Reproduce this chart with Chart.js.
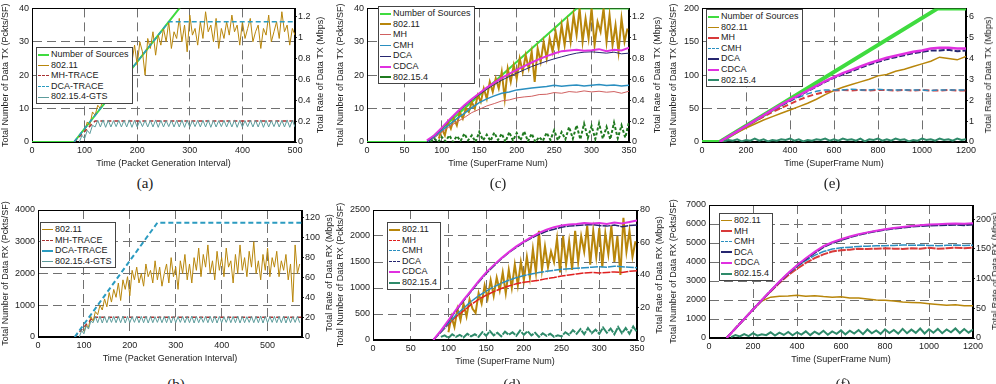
<!DOCTYPE html>
<html>
<head>
<meta charset="utf-8">
<script src="https://cdn.jsdelivr.net/npm/chart.js@4.4.1/dist/chart.umd.min.js"></script>
<style>
  html, body { margin: 0; padding: 0; background: #fff; }
  body { width: 996px; height: 384px; position: relative; overflow: hidden; font-family: "Liberation Sans", Arial, sans-serif; }
  canvas { position: absolute; }
  .cap { position: absolute; font-family: "Liberation Serif", serif; font-size: 15px; color: #222; transform: translate(-50%, -50%); }
  .rt { position: absolute; font-size: 9px; color: #222; white-space: nowrap; transform: translate(-50%, -50%) rotate(-90deg); }
  .lg { position: absolute; background: #fff; border: 1px solid #444; padding: 1px 3px 1px 1px; font-size: 9px; color: #222; }
  .lg div { height: 10.6px; line-height: 10.6px; white-space: nowrap; }
  .lg span { display: inline-block; width: 11px; margin-right: 2px; vertical-align: middle; }
</style>
</head>
<body>
<script>
// ---- (a) TX vs packet generation interval ----
const aSrcX = [0, 80, 280, 500], aSrcY = [0, 0, 40, 84];
const aMhX = [80, 120, 500], aMhY = [0, 6.3, 6.3];
const aDcaX = [80, 260, 500], aDcaY = [0, 36, 36];
// 802.11 sampled from x=100, every 5
const a80211 = [3,6,5,9,8,11,10,13,12,16, 14,19,17,21,20,25,22,27,24,29,
  23,30,27,20,31,28,33,26,32,29, 34,30,36,28,33,31,37,30,35,27,
  38,32,34,29,36,31,39,33,35,30, 37,28,34,31,36,32,38,33,35,29,
  36,31,34,37,30,33,35,28,34,32, 38,30,33,36,31,39,33,35,29,34, 32];
// GTS sampled from x=90, every 5
const aGts = [0,2,1,3.5,2.5,5,4.5,
  6.5,4.5,6.6,4.4,6.5,4.5,6.4,4.6,6.5,4.5, 6.5,4.5,6.6,4.4,6.5,4.5,6.4,4.6,6.5,4.5,
  6.5,4.5,6.6,4.4,6.5,4.5,6.4,4.6,6.5,4.5, 6.5,4.5,6.6,4.4,6.5,4.5,6.4,4.6,6.5,4.5,
  6.5,4.5,6.6,4.4,6.5,4.5,6.4,4.6,6.5,4.5, 6.5,4.5,6.6,4.4,6.5,4.5,6.4,4.6,6.5,4.5,
  6.5,4.5,6.6,4.4,6.5,4.5,6.4,4.6,6.5,4.5, 6.5,4.5,6.6,4.4,6.5,4.5];

// ---- (b) RX vs packet generation interval ----
const bMhX = [80, 120, 575], bMhY = [0, 620, 620];
const bDcaX = [80, 260, 575], bDcaY = [0, 3600, 3600];
// 802.11 from x=100, every 5
const b80211 = [150,400,300,650,500,800,700,1000,850,1200, 950,1400,1100,1500,1250,1700,1150,1800,1500,1900,
  1300,2100,1800,2200,1700,2000,1600,2300,1900,2100, 1700,2400,1800,2200,1600,2000,2300,1700,2500,1900,
  2200,1500,2400,2000,2600,1800,2300,1700,2500,2100, 2800,1900,2600,2200,2900,2000,2400,1800,2700,2100,
  2500,1900,2800,2200,2400,1700,2600,2000,2900,2100, 2500,1900,2700,2200,3000,2000,2400,1800,2600,2100,
  2800,1900,2500,2200,2700,1900,2400,2100,2600,1800, 2300,1100,2900,2000,2300];
// GTS from x=90, every 5
const bGts = [0,200,100,350,250,500,450,
  650,450,660,440,650,450,640,460,650,450, 650,450,660,440,650,450,640,460,650,450,
  650,450,660,440,650,450,640,460,650,450, 650,450,660,440,650,450,640,460,650,450,
  650,450,660,440,650,450,640,460,650,450, 650,450,660,440,650,450,640,460,650,450,
  650,450,660,440,650,450,640,460,650,450, 650,450,660,440,650,450,640,460,650,450,
  650,450,660,440,650,450,640,460,650,450];

// ---- (c) TX vs superframe, 350 ----
const cSrcX = [0, 80, 280, 350], cSrcY = [0, 0, 40, 40];
// 802.11 from x=96, every 4
const c80211 = [1,4,2,6,4,7,5,9,7,10, 9,12,10,14,12,16,13,18,15,19,
  16,21,13,22,18,23,19,25,21,26, 22,27,18,28,24,30,25,31,27,33,
  28,35,29,36,30,38,32,40,30,37, 31,40,29,36,33,40,30,38,29,35, 27,37,30,34];
// curves from x=80, every 10
const cMh = [0,1.2,3,4.6,6,7.3,8.8,9.8,10.8,11.5,12.3,12.6,13.2,13.5,13.7,14.2,14.3,14.8,14.6,15.1,14.9,15.3,15,15.2,14.9,15.1,14.6,15.2];
const cCmh = [0,1.5,3.5,5.2,7,8.6,10.3,11.8,12.9,13.8,14.6,15,15.6,15.9,16.2,16.4,16.6,17,16.7,16.9,17.1,16.8,17,17.2,16.9,17.1,16.8,17];
const cDca = [0,1.8,4,6.4,8.6,10.6,12.5,14.2,15.8,17.2,18.5,19.6,20.6,21.6,22.6,23.4,24.2,24.9,25.5,26.1,26.6,26.9,27,26.8,26.6,26.9,26.4,26.6];
const cCdca = [0.5,2,4.3,6.7,8.9,11,12.9,14.6,16.3,17.8,19.2,20.4,21.6,22.7,23.8,24.8,25.7,26.5,27.2,27.4,27.6,27.3,27.5,27.8,27.2,27.6,27.4,28.2];
// 802.15.4 from x=85, every 5
const c154 = [0,1,0,1.5,0.2,2,0,1.8,0.3,2.5, 0.5,2,0,3,0.5,2.2,0.3,2.8,0.6,2.5,
  0,3,0.4,2.7,0.5,3.2,0.2,2.5,0,1.5, 0.3,2.8,0.6,3.5,0.5,3,0.8,4.5,1,5,
  0.8,5.5,1.2,4.8,0.9,5.6,1,4.5,0.8,5.8, 1.1,5,1.3,6];

// ---- (d) RX vs superframe, 350 ----
// 802.11 from x=100, every 4
const d80211 = [150,450,250,600,380,700,450,780,600,520, 900,700,1050,800,1150,850,1200,950,1300,900,
  1350,1000,1450,1050,1500,1150,1600,1200,1750,1300, 2100,1350,1800,1400,1700,1500,1950,1300,2000,1450,
  1900,1350,2100,1500,2000,1700,2200,1450,2100,1600, 2150,1400,2050,1650,2200,1500,2000,1250,2350,1700, 2100,1600,1900];
// curves from x=80, every 10
const dMh = [0,150,300,450,560,680,780,860,930,990,1040,1080,1110,1130,1150,1180,1200,1230,1250,1270,1290,1300,1290,1300,1310,1300,1320,1330];
const dCmh = [0,150,320,480,610,740,850,940,1020,1090,1150,1200,1240,1270,1300,1320,1340,1360,1370,1380,1390,1400,1410,1400,1420,1410,1400,1390];
const dDca = [0,170,360,560,750,930,1110,1280,1420,1560,1680,1780,1880,1960,2030,2090,2130,2170,2190,2200,2210,2220,2200,2190,2210,2180,2200,2210];
const dCdca = [0,180,380,580,770,950,1130,1300,1440,1570,1690,1800,1890,1980,2060,2120,2170,2200,2220,2230,2250,2240,2250,2230,2260,2240,2270,2300];
// 802.15.4 from x=90, every 5
const d154 = [60,90,40,110,60,100,50,120,70,110, 60,150,80,170,90,140,70,160,100,150,
  80,180,100,170,90,140,60,130,80,120, 60,90,70,150,100,190,120,210,110,230,
  130,200,120,240,140,220,110,250,130,230, 120,260,150];

// ---- (e) TX vs superframe, 1200 ----
const eSrcX = [0, 80, 1072, 1200], eSrcY = [0, 0, 200, 200];
// curves from x=80, every 40
const e80211 = [0,7,14,21,27,33,38,43,48,53,58,64,71,77,82,86,90,94,99,101,106,109,113,117,121,127,125,123,128];
const eMh = [0,8,16,24,31,38,45,51,57,63,68,72,75,77,78,77,78,77,78,78,77,78,77,78,77,77,78,77,77];
const eCmh = [0,8,16,24,32,40,47,54,61,67,72,76,78,78,78,79,78,78,79,78,78,78,78,78,77,78,78,78,78];
const eDca = [0,8,16,24,32,40,48,55,62,69,76,83,90,96,101,106,111,116,120,124,127,130,133,135,137,137,138,136,137];
const eCdca = [0,8,16,24,32,40,48,56,63,70,77,84,91,97,103,108,113,118,122,126,129,132,135,137,140,141,141,140,140];
// 802.15.4 from x=100, every 20
const e154 = [1,3,2,4,1,3,2,5,2,4, 1,3,2,4,3,5,2,4,1,3, 2,4,3,5,2,4,2,5,3,4,
  2,5,1,4,3,5,2,4,2,5, 3,4,1,3,2,5,3,4,2,5, 3,4,2,5,3,4];

// ---- (f) RX vs superframe, 1200 ----
// curves from x=80, every 40
const f80211 = [0,500,1000,1500,1950,2150,2200,2210,2250,2200,2230,2180,2150,2170,2100,2100,2050,2000,1990,1950,1900,1870,1850,1800,1760,1720,1750,1700,1700];
const fMh = [0,500,1000,1500,1980,2450,2900,3300,3650,3950,4200,4400,4550,4620,4650,4700,4680,4700,4720,4700,4690,4720,4700,4750,4700,4720,4750,4730,4760];
const fCmh = [0,500,1000,1500,1990,2480,2950,3380,3750,4080,4350,4550,4680,4750,4780,4820,4830,4850,4860,4870,4900,4880,4890,4870,4860,4880,4890,4870,4880];
const fDca = [0,500,1000,1500,1990,2480,2950,3400,3800,4150,4480,4780,5000,5150,5300,5430,5530,5620,5700,5760,5810,5860,5890,5920,5930,5950,5960,5940,5970];
const fCdca = [0,500,1000,1500,2000,2490,2970,3420,3830,4200,4530,4830,5040,5200,5340,5460,5560,5650,5720,5790,5840,5890,5930,5970,5990,6010,6020,6010,6040];
// 802.15.4 from x=100, every 20
const f154 = [50,150,80,200,100,250,120,200,150,300, 130,280,160,320,140,300,180,350,150,330,
  200,380,170,350,220,400,190,380,230,420, 200,450,250,400,220,460,260,420,230,480,
  250,440,270,500,240,460,280,480,250,450, 300,500,260,470,280,450];

// colours
const C = {
  src: '#3fdb3f', gold: '#b8860b', mhT: '#a83232', dcaT: '#2b9bc0', gts: '#5d9c9c',
  mh: '#d83a3a', cmh: '#2a8fc0', dca: '#262670', cdca: '#e030e0', g154: '#1f7a1f', t154: '#2e8a6a'
};

function along(x0, dx, ys) { return ys.map((y, i) => ({ x: x0 + i * dx, y: y })); }
function pairs(xs, ys) { return xs.map((x, i) => ({ x: x, y: ys[i] })); }

Chart.defaults.font.family = '"Liberation Sans", Arial, sans-serif';
Chart.defaults.font.size = 9;
Chart.defaults.color = '#222';

const frame = {
  id: 'frame',
  beforeDatasetsDraw(chart) {
    const { ctx, chartArea: a } = chart;
    ctx.save();
    ctx.strokeStyle = '#000';
    ctx.lineWidth = 1;
    ctx.strokeRect(Math.round(a.left) + 0.5, Math.round(a.top) + 0.5, Math.round(a.right - a.left) - 1, Math.round(a.bottom - a.top) - 1);
    ctx.restore();
  }
};

const tickFmt = step => v => {
  const k = v / step;
  if (Math.abs(k - Math.round(k)) > 1e-6) return null;
  return String(Math.round(v * 100) / 100);
};

function addDiv(cls, html, x, y) {
  const d = document.createElement('div');
  d.className = cls;
  d.innerHTML = html;
  d.style.left = x + 'px';
  d.style.top = y + 'px';
  document.body.appendChild(d);
  return d;
}

function panel(p) {
  const cv = document.createElement('canvas');
  cv.width = p.box[2];
  cv.height = p.box[3];
  cv.style.left = p.box[0] + 'px';
  cv.style.top = p.box[1] + 'px';
  document.body.appendChild(cv);

  const gridOpt = { color: '#707070', lineWidth: 1, drawTicks: false };
  const border = { dash: [9, 5], color: '#000' };

  new Chart(cv, {
    type: 'line',
    data: {
      datasets: p.series.map((s, i) => ({
        label: s.label, data: s.data, borderColor: s.color, borderWidth: s.width || 1,
        borderDash: s.dash || [], pointRadius: 0, tension: 0, fill: false, yAxisID: 'y', order: -i
      }))
    },
    options: {
      responsive: false, animation: false, devicePixelRatio: 1,
      layout: { padding: { top: p.padTop, left: 0, right: 0, bottom: 0 } },
      plugins: { legend: { display: false }, tooltip: { enabled: false } },
      scales: {
        x: {
          type: 'linear', min: 0, max: p.xMax,
          afterFit: s => { s.height = 28; },
          ticks: { stepSize: p.xStep, includeBounds: false, callback: tickFmt(p.xStep), padding: 3, maxRotation: 0, autoSkip: false },
          grid: gridOpt, border: border,
          title: { display: true, text: p.xTitle, padding: { top: 2, bottom: 1 } }
        },
        y: {
          position: 'left', min: 0, max: p.yMax,
          afterFit: s => { s.width = p.yl; },
          ticks: { stepSize: p.yStep, includeBounds: false, callback: tickFmt(p.yStep), padding: 3 },
          grid: gridOpt, border: border,
          title: { display: true, text: p.yTitle, padding: { top: 0, bottom: 1 } }
        },
        y1: {
          position: 'right', min: 0, max: p.rMax,
          afterFit: s => { s.width = p.yr; },
          ticks: { stepSize: p.rStep, includeBounds: false, callback: tickFmt(p.rStep), padding: 1 },
          grid: { display: true, drawOnChartArea: false, drawTicks: true, tickLength: 2, color: '#222' },
          border: { color: '#000' }
        }
      }
    },
    plugins: [frame]
  });

  addDiv('rt', p.rTitle, p.rPos[0], p.rPos[1]);
  addDiv('cap', p.caption[0], p.caption[1], p.caption[2]);
  const rows = p.series.map(s => {
    const w = Math.min(s.width || 1, 2);
    const st = (s.dash ? 'dashed' : 'solid');
    return '<div><span style="border-top:' + w + 'px ' + st + ' ' + s.color + '"></span>' + s.label + '</div>';
  }).join('');
  addDiv('lg', rows, p.legend[0], p.legend[1]);
}

const TX_L = 'Total Number of Data TX (Pckts/SF)', RX_L = 'Total Number of Data RX (Pckts/SF)';
const TX_R = 'Total Rate of Data TX (Mbps)', RX_R = 'Total Rate of Data RX (Mbps)';
const PGI = 'Time (Packet Generation Interval)', SFN = 'Time (SuperFrame Num)';

panel({
  box: [0, 0, 330, 170], padTop: 8, yl: 32, yr: 35,
  xMax: 500, xStep: 100, yMax: 40, yStep: 10, rMax: 1.28, rStep: 0.2,
  xTitle: PGI, yTitle: TX_L, rTitle: TX_R, rPos: [320, 75], legend: [36, 47], caption: ['(a)', 145, 183],
  series: [
    { label: 'Number of Sources', data: pairs(aSrcX, aSrcY), color: C.src, width: 2 },
    { label: '802.11', data: along(100, 5, a80211), color: C.gold, width: 1 },
    { label: 'MH-TRACE', data: pairs(aMhX, aMhY), color: C.mhT, width: 1.5, dash: [4, 3] },
    { label: 'DCA-TRACE', data: pairs(aDcaX, aDcaY), color: C.dcaT, width: 1.5, dash: [5, 3] },
    { label: '802.15.4-GTS', data: along(90, 5, aGts), color: C.gts, width: 1 }
  ]
});

panel({
  box: [335, 0, 328, 170], padTop: 8, yl: 32, yr: 34,
  xMax: 350, xStep: 50, yMax: 40, yStep: 10, rMax: 1.28, rStep: 0.2,
  xTitle: SFN, yTitle: TX_L, rTitle: TX_R, rPos: [657, 75], legend: [378, 6], caption: ['(c)', 498, 183],
  series: [
    { label: 'Number of Sources', data: pairs(cSrcX, cSrcY), color: C.src, width: 2 },
    { label: '802.11', data: along(96, 4, c80211), color: C.gold, width: 2 },
    { label: 'MH', data: along(80, 10, cMh), color: '#d06060', width: 1 },
    { label: 'CMH', data: along(80, 10, cCmh), color: C.cmh, width: 1.5 },
    { label: 'DCA', data: along(80, 10, cDca), color: C.dca, width: 1 },
    { label: 'CDCA', data: along(80, 10, cCdca), color: C.cdca, width: 2 },
    { label: '802.15.4', data: along(85, 5, c154), color: C.g154, width: 2, dash: [3, 2] }
  ]
});

panel({
  box: [668, 0, 328, 170], padTop: 8, yl: 34, yr: 30,
  xMax: 1200, xStep: 200, yMax: 200, yStep: 50, rMax: 6.4, rStep: 1,
  xTitle: SFN, yTitle: TX_L, rTitle: TX_R, rPos: [988, 75], legend: [706, 9], caption: ['(e)', 832, 183],
  series: [
    { label: 'Number of Sources', data: pairs(eSrcX, eSrcY), color: C.src, width: 4 },
    { label: '802.11', data: along(80, 40, e80211), color: C.gold, width: 1.5 },
    { label: 'MH', data: along(80, 40, eMh), color: C.mh, width: 2, dash: [6, 3] },
    { label: 'CMH', data: along(80, 40, eCmh), color: C.cmh, width: 1.5, dash: [6, 3] },
    { label: 'DCA', data: along(80, 40, eDca), color: C.dca, width: 2, dash: [6, 2] },
    { label: 'CDCA', data: along(80, 40, eCdca), color: C.cdca, width: 2.5 },
    { label: '802.15.4', data: along(100, 20, e154), color: C.t154, width: 2 }
  ]
});

panel({
  box: [0, 195, 335, 170], padTop: 15, yl: 38, yr: 33,
  xMax: 575, xStep: 100, yMax: 4000, yStep: 1000, rMax: 128, rStep: 20,
  xTitle: PGI, yTitle: RX_L, rTitle: RX_R, rPos: [329, 273], legend: [40, 222], caption: ['(b)', 176, 384],
  series: [
    { label: '802.11', data: along(100, 5, b80211), color: C.gold, width: 1 },
    { label: 'MH-TRACE', data: pairs(bMhX, bMhY), color: C.mhT, width: 1.5, dash: [4, 3] },
    { label: 'DCA-TRACE', data: pairs(bDcaX, bDcaY), color: C.dcaT, width: 2, dash: [5, 3] },
    { label: '802.15.4-GTS', data: along(90, 5, bGts), color: C.gts, width: 1 }
  ]
});

panel({
  box: [335, 195, 330, 173], padTop: 15, yl: 38, yr: 28,
  xMax: 350, xStep: 50, yMax: 2500, yStep: 500, rMax: 80, rStep: 20,
  xTitle: SFN, yTitle: RX_L, rTitle: RX_R, rPos: [659, 275], legend: [387, 222], caption: ['(d)', 512, 384],
  series: [
    { label: '802.11', data: along(100, 4, d80211), color: C.gold, width: 2 },
    { label: 'MH', data: along(80, 10, dMh), color: '#e02020', width: 1.5, dash: [8, 1] },
    { label: 'CMH', data: along(80, 10, dCmh), color: C.cmh, width: 1.5, dash: [8, 1] },
    { label: 'DCA', data: along(80, 10, dDca), color: C.dca, width: 1.5, dash: [8, 1] },
    { label: 'CDCA', data: along(80, 10, dCdca), color: C.cdca, width: 2 },
    { label: '802.15.4', data: along(90, 5, d154), color: C.t154, width: 2, dash: [8, 1] }
  ]
});

panel({
  box: [668, 190, 336, 176], padTop: 15, yl: 41, yr: 31,
  xMax: 1200, xStep: 200, yMax: 7000, yStep: 1000, rMax: 224, rStep: 50,
  xTitle: SFN, yTitle: RX_L, rTitle: RX_R, rPos: [995, 271], legend: [719, 213], caption: ['(f)', 843, 384],
  series: [
    { label: '802.11', data: along(80, 40, f80211), color: C.gold, width: 1.5 },
    { label: 'MH', data: along(80, 40, fMh), color: C.mh, width: 2, dash: [8, 1] },
    { label: 'CMH', data: along(80, 40, fCmh), color: C.cmh, width: 1.5, dash: [8, 1] },
    { label: 'DCA', data: along(80, 40, fDca), color: C.dca, width: 2, dash: [8, 1] },
    { label: 'CDCA', data: along(80, 40, fCdca), color: C.cdca, width: 2 },
    { label: '802.15.4', data: along(100, 20, f154), color: C.t154, width: 2 }
  ]
});
</script>
</body>
</html>
